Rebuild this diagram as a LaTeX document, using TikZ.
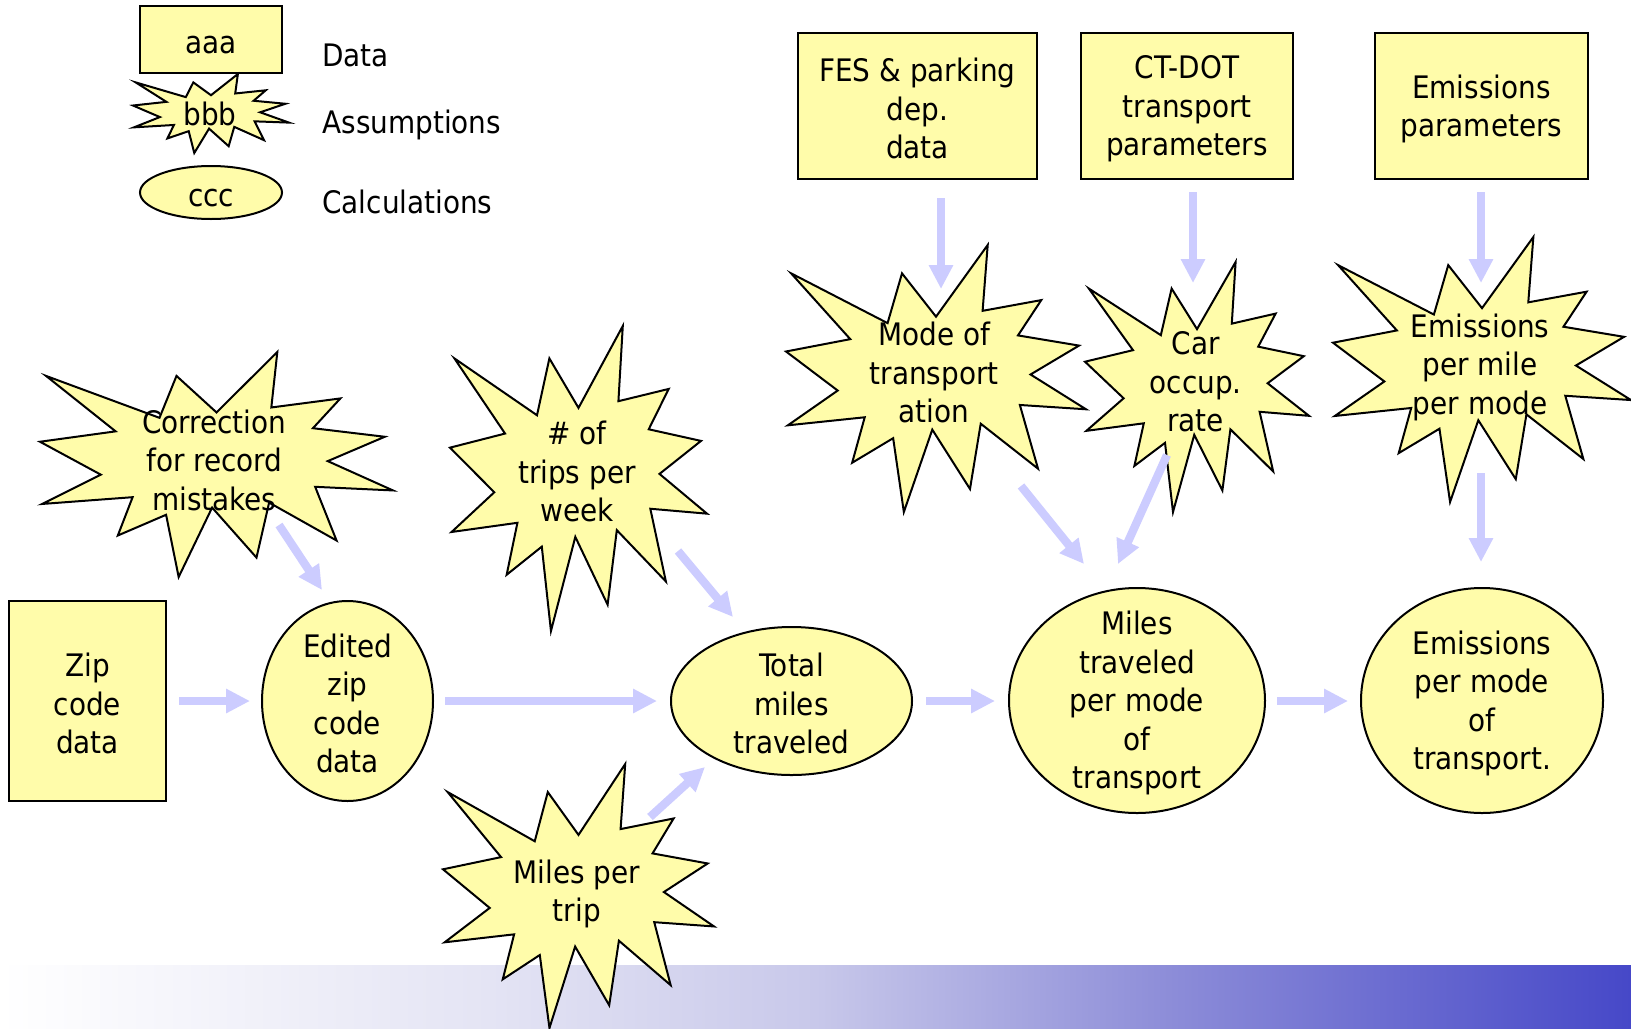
\documentclass[tikz,border=0pt]{standalone}
\usepackage{fontspec}
\setmainfont{DejaVu Sans Condensed}
\usetikzlibrary{arrows.meta,shapes.geometric}
\definecolor{boxfill}{RGB}{255,252,170}
\definecolor{flowc}{RGB}{204,204,255}
\definecolor{bandA}{RGB}{255,255,255}
\definecolor{bandB}{RGB}{228,228,244}
\definecolor{bandC}{RGB}{200,200,234}
\definecolor{bandD}{RGB}{140,140,216}
\definecolor{bandE}{RGB}{70,72,200}
\pgfdeclarehorizontalshading{bandshade}{100bp}{color(0bp)=(bandA); color(25bp)=(bandA); color(40bp)=(bandB); color(50bp)=(bandC); color(61bp)=(bandD); color(75bp)=(bandE); color(100bp)=(bandE)}
\newcommand{\mystrut}{\rule[-0.5pt]{0pt}{15.2pt}}
\newcommand{\nl}{\mystrut\\\mystrut}
\tikzset{
  every node/.style={font=\fontsize{15.5}{19.25}\selectfont, align=center},
  txt/.style={execute at begin node=\mystrut, execute at end node=\mystrut},
  databox/.style={draw=black, line width=1pt, fill=boxfill, rectangle, inner sep=0pt, txt},
  calcshape/.style={draw=black, line width=1pt, fill=boxfill, ellipse, inner sep=0pt},
  burstshape/.style={draw=black, line width=1pt, fill=boxfill},
  plaintext/.style={inner sep=0pt, txt},
  flow/.style={draw=flowc, line width=4.15pt, -{Triangle[length=12pt,width=11.5pt]}},
  legendlabel/.style={anchor=west, inner sep=0pt, txt}
}
% [extra text offset]{name}{x0}{y0}{w}{h}{text}
\newcommand{\burstnode}[7][0]{%
  \begin{scope}[shift={(#3,#4)}, xscale=#5/216, yscale=#6/216]
    \draw[burstshape] (108,58) -- (145.22,0) -- (141.55,53.25) -- (183.80,44.57) -- (167.02,73.15) -- (210.97,81.37) -- (176.07,104.75) -- (216,132.90) -- (168.37,129.42) -- (181.45,180.95) -- (140.20,144.57) -- (132.47,197.37) -- (105.32,149.35) -- (84.85,216) -- (77.15,156.27) -- (47.62,176.17) -- (56.67,139.37) -- (1.35,145.87) -- (37.22,117.75) -- (0,86.15) -- (46.27,76.17) -- (3.70,22.95) -- (73.12,63.20) -- (83.52,22.95) -- cycle;
  \end{scope}
  \node[plaintext] (#2) at ({#3+#5*0.4937},{#4+#6*0.4689+#1}) {#7};
}
\begin{document}
\begin{tikzpicture}[x=0.5pt,y=-0.5pt]
\useasboundingbox (0,0) rectangle (1631,1028);
\fill[white] (0,0) rectangle (1631,1028);
\fill[shading=bandshade] (0,965) rectangle (1631,1028);

% legend
\node[databox, minimum width=71pt, minimum height=33.5pt] (aaa) at (211,39.5) {aaa};
\burstnode{bbb}{133}{74}{156}{79}{bbb}
\node[calcshape, minimum width=71pt, minimum height=26.5pt] (ccc) at (211,192.5) {};
\node[plaintext] (ccct) at (ccc) {ccc};
\node[legendlabel] (ldata) at (322,51.8) {Data};
\node[legendlabel] (lass) at (322,122.5) {Assumptions};
\node[legendlabel] (lcalc) at (322,199) {Calculations};

% data boxes
\node[databox, minimum width=119.5pt, minimum height=73pt] (fes) at (917.5,106) {FES \& parking\nl dep.\nl data};
\node[databox, minimum width=106pt, minimum height=73pt] (ctdot) at (1187,106) {CT-DOT\nl transport\nl parameters};
\node[databox, minimum width=106.5pt, minimum height=73pt] (emp) at (1481.5,106) {Emissions\nl parameters};
\node[databox, minimum width=78.5pt, minimum height=100pt] (zip) at (87.5,701) {Zip\nl code\nl data};

% calculations
\node[calcshape, minimum width=85.5pt, minimum height=100pt] (edited) at (347.5,701) {};
\node[plaintext] (editedt) at (edited) {Edited\nl zip\nl code\nl data};
\node[calcshape, minimum width=120.5pt, minimum height=74pt] (total) at (791.5,701) {};
\node[plaintext] (totalt) at (total) {Total\nl miles\nl traveled};
\node[calcshape, minimum width=128pt, minimum height=112.5pt] (mmode) at (1137,700.5) {};
\node[plaintext] (mmodet) at (mmode) {Miles\nl traveled\nl per mode\nl of\nl transport};
\node[calcshape, minimum width=121pt, minimum height=112.5pt] (emode) at (1482,700.5) {};
\node[plaintext] (emodet) at (emode) {Emissions\nl per mode\nl of\nl transport.};

% assumptions
\burstnode{corr}{40}{352}{353}{225}{Correction\nl for record\nl mistakes}
\burstnode{trips}{450}{326}{257}{305}{\# of\nl trips per\nl week}
\burstnode[3]{mpt}{443}{764}{271}{264}{Miles per\nl trip}
\burstnode{mode}{786}{245}{300}{267}{Mode of\nl transport\nl ation}
\burstnode{occ}{1085}{262}{224}{250}{Car\nl occup.\nl rate}
\burstnode[3]{epm}{1333}{237}{298}{265}{Emissions\nl per mile\nl per mode}

% connector end points
\coordinate (a1s) at (179,701);  \coordinate (a1e) at (250,701);
\coordinate (a2s) at (445,701);  \coordinate (a2e) at (657,701);
\coordinate (a3s) at (926,701);  \coordinate (a3e) at (995,701);
\coordinate (a4s) at (1277,701); \coordinate (a4e) at (1348,701);
\coordinate (a5s) at (279,525);  \coordinate (a5e) at (322,590);
\coordinate (a6s) at (678,551);  \coordinate (a6e) at (733,617);
\coordinate (a7s) at (650,817);  \coordinate (a7e) at (705,767);
\coordinate (a8s) at (941,198);  \coordinate (a8e) at (941,289);
\coordinate (a9s) at (1193,192); \coordinate (a9e) at (1193,283);
\coordinate (a10s) at (1481,192); \coordinate (a10e) at (1481,283);
\coordinate (a11s) at (1021,486); \coordinate (a11e) at (1084,564);
\coordinate (a12s) at (1167,455); \coordinate (a12e) at (1118,564);
\coordinate (a13s) at (1481,473); \coordinate (a13e) at (1481,562);

\draw[flow] (a1s) -- (a1e);
\draw[flow] (a2s) -- (a2e);
\draw[flow] (a3s) -- (a3e);
\draw[flow] (a4s) -- (a4e);
\draw[flow] (a5s) -- (a5e);
\draw[flow] (a6s) -- (a6e);
\draw[flow] (a7s) -- (a7e);
\draw[flow] (a8s) -- (a8e);
\draw[flow] (a9s) -- (a9e);
\draw[flow] (a10s) -- (a10e);
\draw[flow] (a11s) -- (a11e);
\draw[flow] (a12s) -- (a12e);
\draw[flow] (a13s) -- (a13e);
\end{tikzpicture}
\end{document}
